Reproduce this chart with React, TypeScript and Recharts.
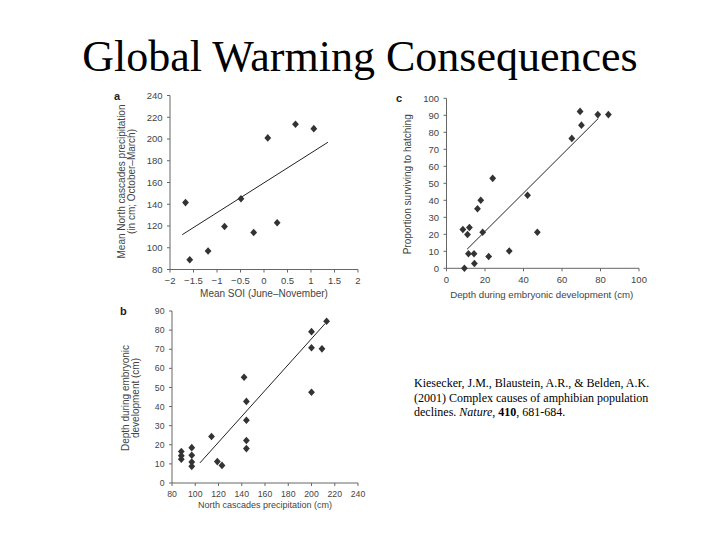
import React from 'react';
import { ScatterChart, Scatter, XAxis, YAxis, ReferenceLine, Label } from 'recharts';

// Panel a: SOI vs North cascades precipitation
const soiA = [-1.67, -1.58, -1.19, -0.84, -0.49, -0.22, 0.08, 0.28, 0.67, 1.06];
const precipA = [141.5, 89, 97, 119.5, 145, 114, 201, 123, 213.5, 209.5];
const fitA = [{ x: -1.74, y: 112 }, { x: 1.36, y: 197 }];
const ticksAx = [-2, -1.5, -1, -0.5, 0, 0.5, 1, 1.5, 2];
const ticksAy = [80, 100, 120, 140, 160, 180, 200, 220, 240];

// Panel b: precipitation vs depth
const precipB = [88, 88, 88, 97, 97, 97, 97, 114, 119, 123, 142, 144, 144, 144, 144, 200, 200, 200, 209, 213];
const depthB = [16.5, 14.3, 12.4, 18.5, 14.5, 11, 8.7, 24.3, 11.2, 9.2, 55.3, 42.7, 32.8, 22.2, 18, 79.2, 70.8, 47.5, 70.2, 84.6];
const fitB = [{ x: 104, y: 10.5 }, { x: 211.7, y: 83.4 }];
const ticksBx = [80, 100, 120, 140, 160, 180, 200, 220, 240];
const ticksBy = [0, 10, 20, 30, 40, 50, 60, 70, 80, 90];

// Panel c: depth vs proportion surviving
const depthC = [8.5, 9.3, 10.9, 11.4, 11.9, 14.3, 14.5, 16.1, 17.8, 18.8, 21.9, 24, 32.6, 42.1, 47.2, 65.1, 69.4, 70.1, 78.6, 84.1];
const survC = [22.8, 0, 19.9, 8.6, 24, 8.6, 2.8, 35, 40, 21.2, 6.9, 52.9, 10.2, 43, 21.2, 76.4, 92.3, 84.2, 90.4, 90.4];
const fitC = [{ x: 10.7, y: 11.2 }, { x: 78.9, y: 88.2 }];
const ticksCx = [0, 20, 40, 60, 80, 100];
const ticksCy = [0, 10, 20, 30, 40, 50, 60, 70, 80, 90, 100];

const zip = (xs: number[], ys: number[]) => xs.map((x, i) => ({ x, y: ys[i] }));

const SANS = '"Liberation Sans", Arial, Helvetica, sans-serif';
const SERIF = '"Liberation Serif", "Times New Roman", Times, serif';
const AXIS = '#666';
const TEXT = '#444';
const tick = (size: number) => ({ fontSize: size, fill: TEXT, fontFamily: SANS });

const minus = (v: number) => String(v).replace('-', '\u2212');

const Diamond = (props: any) => {
  const { cx, cy } = props;
  if (cx == null || cy == null) return null;
  const w = 3.4;
  const h = 3.8;
  return <polygon points={`${cx},${cy - h} ${cx + w},${cy} ${cx},${cy + h} ${cx - w},${cy}`} fill="#333" />;
};

// rotated (possibly multi-line) title for a Y axis
const YTitle = ({ viewBox, lines, xs, dy = 0, size = 10 }: any) => {
  if (!viewBox) return null;
  const cy = viewBox.y + viewBox.height / 2 + dy;
  return (
    <g>
      {lines.map((t: string, i: number) => {
        const cx = viewBox.x + xs[i];
        return (
          <text key={i} x={cx} y={cy} transform={`rotate(-90, ${cx}, ${cy})`} textAnchor="middle"
            dominantBaseline="central" fontSize={size} fill={TEXT} fontFamily={SANS}>{t}</text>
        );
      })}
    </g>
  );
};

const XTitle = ({ viewBox, text, dy, dx = 0, size = 10 }: any) => {
  if (!viewBox) return null;
  return (
    <text x={viewBox.x + viewBox.width / 2 + dx} y={viewBox.y + dy} textAnchor="middle"
      dominantBaseline="central" fontSize={size} fill={TEXT} fontFamily={SANS}>{text}</text>
  );
};

const letterStyle: React.CSSProperties = {
  position: 'absolute', fontFamily: SANS, fontWeight: 'bold', fontSize: 11, lineHeight: '11px', color: '#222',
};

export default function App() {
  return (
    <div style={{ position: 'absolute', left: 0, top: 0, width: 720, height: 540, background: '#fff', overflow: 'hidden' }}>
      <div style={{ position: 'absolute', left: 0, top: 35, width: 720, textAlign: 'center', fontFamily: SERIF, fontSize: 44, lineHeight: '44px', color: '#000' }}>
        Global Warming Consequences
      </div>

      <div style={{ ...letterStyle, left: 114, top: 91 }}>a</div>
      <div style={{ ...letterStyle, left: 396, top: 93 }}>c</div>
      <div style={{ ...letterStyle, left: 120, top: 306 }}>b</div>

      {/* panel a */}
      <div style={{ position: 'absolute', left: 110, top: 85 }}>
        <ScatterChart width={260} height={220} margin={{ top: 10.5, right: 12, left: 0, bottom: 0 }}>
          <XAxis type="number" dataKey="x" domain={[-2, 2]} ticks={ticksAx} tickFormatter={minus} height={35.5}
            stroke={AXIS} tick={tick(9.5)} tickSize={3} tickMargin={5} interval={0}>
            <Label content={<XTitle text="Mean SOI (June–November)" dy={24} />} />
          </XAxis>
          <YAxis type="number" dataKey="y" domain={[80, 240]} ticks={ticksAy} width={60}
            stroke={AXIS} tick={tick(9.5)} tickSize={3} tickMargin={4.5} interval={0}>
            <Label content={<YTitle lines={['Mean North cascades precipitation', '(in cm; October–March)']} xs={[11.7, 21.7]} dy={-1} />} />
          </YAxis>
          <ReferenceLine segment={fitA} stroke="#222" strokeWidth={1} />
          <Scatter data={zip(soiA, precipA)} shape={Diamond} fill="#333" isAnimationActive={false} />
        </ScatterChart>
      </div>

      {/* panel c */}
      <div style={{ position: 'absolute', left: 385, top: 85 }}>
        <ScatterChart width={270} height={220} margin={{ top: 13.3, right: 16, left: 0, bottom: 0 }}>
          <XAxis type="number" dataKey="x" domain={[0, 100]} ticks={ticksCx} height={36.7}
            stroke={AXIS} tick={tick(9.5)} tickSize={3} tickMargin={4.5} interval={0}>
            <Label content={<XTitle text="Depth during embryonic development (cm)" dy={26} dx={-1} size={9.7} />} />
          </XAxis>
          <YAxis type="number" dataKey="y" domain={[0, 100]} ticks={ticksCy} width={61.5}
            stroke={AXIS} tick={tick(9.5)} tickSize={3} tickMargin={4.5} interval={0}>
            <Label content={<YTitle lines={['Proportion surviving to hatching']} xs={[23]} dy={1} />} />
          </YAxis>
          <ReferenceLine segment={fitC} stroke="#222" strokeWidth={1} />
          <Scatter data={zip(depthC, survC)} shape={Diamond} fill="#333" isAnimationActive={false} />
        </ScatterChart>
      </div>

      {/* panel b */}
      <div style={{ position: 'absolute', left: 110, top: 300 }}>
        <ScatterChart width={260} height={215} margin={{ top: 11, right: 12, left: 0, bottom: 0 }}>
          <XAxis type="number" dataKey="x" domain={[80, 240]} ticks={ticksBx} height={32}
            stroke={AXIS} tick={tick(8.7)} tickSize={3} tickMargin={5} interval={0}>
            <Label content={<XTitle text="North cascades precipitation (cm)" dy={22} size={9} />} />
          </XAxis>
          <YAxis type="number" dataKey="y" domain={[0, 90]} ticks={ticksBy} width={62}
            stroke={AXIS} tick={tick(8.7)} tickSize={3} tickMargin={4.5} interval={0}>
            <Label content={<YTitle lines={['Depth during embryonic', 'development (cm)']} xs={[15, 25]} dy={1} />} />
          </YAxis>
          <ReferenceLine segment={fitB} stroke="#222" strokeWidth={1} />
          <Scatter data={zip(precipB, depthB)} shape={Diamond} fill="#333" isAnimationActive={false} />
        </ScatterChart>
      </div>

      <div style={{ position: 'absolute', left: 414, top: 376, fontFamily: SERIF, fontSize: 12, lineHeight: '14.5px', color: '#000', whiteSpace: 'nowrap' }}>
        Kiesecker, J.M., Blaustein, A.R., &amp; Belden, A.K.<br />
        (2001) Complex causes of amphibian population<br />
        declines. <i>Nature</i>, <b>410</b>, 681-684.
      </div>
    </div>
  );
}
